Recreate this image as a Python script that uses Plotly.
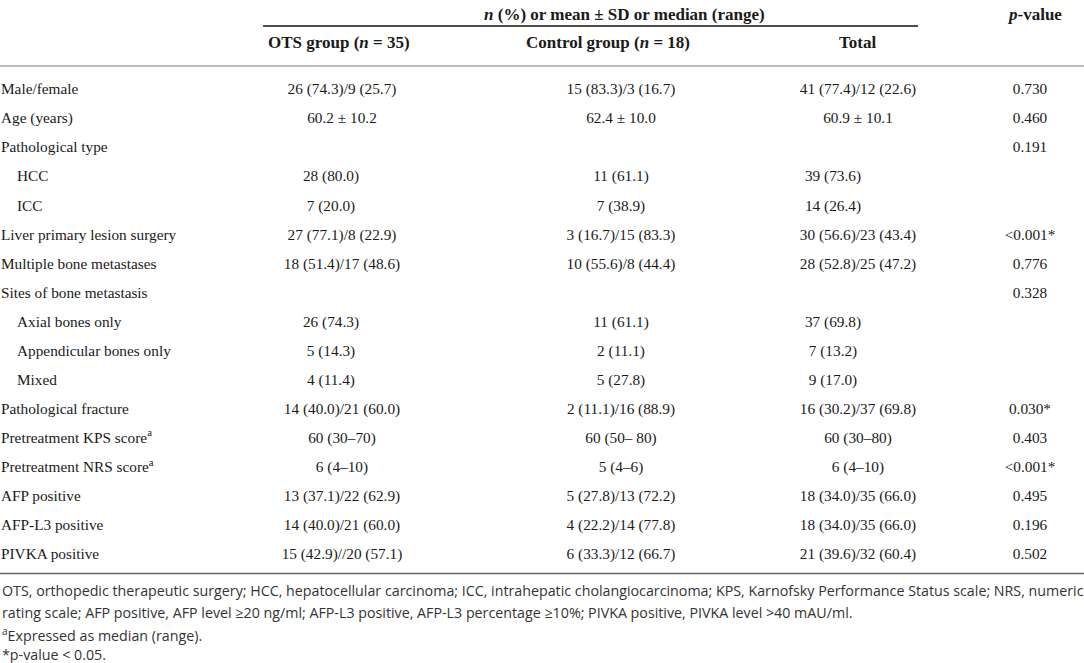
import plotly.graph_objects as go

# ---------------- data ----------------
labels = ["Male/female", "Age (years)", "Pathological type", "HCC", "ICC",
          "Liver primary lesion surgery", "Multiple bone metastases",
          "Sites of bone metastasis", "Axial bones only", "Appendicular bones only",
          "Mixed", "Pathological fracture", "Pretreatment KPS score<sup>a</sup>",
          "Pretreatment NRS score<sup>a</sup>", "AFP positive", "AFP-L3 positive",
          "PIVKA positive"]
is_sub = [False, False, False, True, True, False, False, False, True, True, True,
          False, False, False, False, False, False]
ots = ["26 (74.3)/9 (25.7)", "60.2 ± 10.2", "", "28 (80.0)", "7 (20.0)",
       "27 (77.1)/8 (22.9)", "18 (51.4)/17 (48.6)", "", "26 (74.3)", "5 (14.3)",
       "4 (11.4)", "14 (40.0)/21 (60.0)", "60 (30–70)", "6 (4–10)",
       "13 (37.1)/22 (62.9)", "14 (40.0)/21 (60.0)", "15 (42.9)//20 (57.1)"]
control = ["15 (83.3)/3 (16.7)", "62.4 ± 10.0", "", "11 (61.1)", "7 (38.9)",
           "3 (16.7)/15 (83.3)", "10 (55.6)/8 (44.4)", "", "11 (61.1)", "2 (11.1)",
           "5 (27.8)", "2 (11.1)/16 (88.9)", "60 (50– 80)", "5 (4–6)",
           "5 (27.8)/13 (72.2)", "4 (22.2)/14 (77.8)", "6 (33.3)/12 (66.7)"]
total = ["41 (77.4)/12 (22.6)", "60.9 ± 10.1", "", "39 (73.6)", "14 (26.4)",
         "30 (56.6)/23 (43.4)", "28 (52.8)/25 (47.2)", "", "37 (69.8)", "7 (13.2)",
         "9 (17.0)", "16 (30.2)/37 (69.8)", "60 (30–80)", "6 (4–10)",
         "18 (34.0)/35 (66.0)", "18 (34.0)/35 (66.0)", "21 (39.6)/32 (60.4)"]
pvals = ["0.730", "0.460", "0.191", "", "", "<0.001*", "0.776", "0.328", "", "", "",
         "0.030*", "0.403", "<0.001*", "0.495", "0.196", "0.502"]

header_span = "<i>n</i> (%) or mean ± SD or median (range)"
header_cols = ["OTS group (<i>n</i> = 35)", "Control group (<i>n</i> = 18)", "Total"]
header_p = "<i>p</i>-value"
footnotes = [
    "OTS, orthopedic therapeutic surgery; HCC, hepatocellular carcinoma; ICC, intrahepatic cholangiocarcinoma; KPS, Karnofsky Performance Status scale; NRS, numeric",
    "rating scale; AFP positive, AFP level ≥20 ng/ml; AFP-L3 positive, AFP-L3 percentage ≥10%; PIVKA positive, PIVKA level >40 mAU/ml.",
    "<sup>a</sup>Expressed as median (range).",
    "*p-value < 0.05.",
]

# ---------------- layout constants (pixels) ----------------
W, H = 1084, 663
ROW0, STEP = 90.5, 29.05
X_LABEL, X_LABEL_SUB = 1, 17
X_OTS, X_OTS_SUB = 342, 331
X_CTRL = 621
X_TOT, X_TOT_SUB = 858, 833
X_P = 1030
SERIF = "Liberation Serif"
SANS = "Open Sans"
INK = "#1a1a1a"

rows = list(range(len(labels)))


def py(px):
    return 1 - px / H


fig = go.Figure()

body_font = dict(family=SERIF, size=15.3, color=INK)


def add_column(values, xs):
    keep = [i for i, v in enumerate(values) if v]
    fig.add_trace(go.Scatter(
        x=[xs[i] for i in keep], y=[rows[i] for i in keep],
        text=[values[i] for i in keep],
        mode="text", textposition="middle center", textfont=body_font,
        cliponaxis=False, hoverinfo="skip", showlegend=False))


# row labels
fig.add_trace(go.Scatter(
    x=[X_LABEL_SUB if s else X_LABEL for s in is_sub], y=rows, text=labels,
    mode="text", textposition="middle right", textfont=body_font,
    cliponaxis=False, hoverinfo="skip", showlegend=False))

for col, xm, xs in [(ots, X_OTS, X_OTS_SUB), (control, X_CTRL, X_CTRL),
                    (total, X_TOT, X_TOT_SUB), (pvals, X_P, X_P)]:
    add_column(col, [xs if s else xm for s in is_sub])

# headers
hfont = dict(family=SERIF, size=17, color=INK)
ann = [
    dict(x=624 / W, y=py(14), text="<b>" + header_span + "</b>"),
    dict(x=1034 / W, y=py(14), text="<b>" + header_p + "</b>"),
    dict(x=339 / W, y=py(43), text="<b>" + header_cols[0] + "</b>"),
    dict(x=608 / W, y=py(43), text="<b>" + header_cols[1] + "</b>"),
    dict(x=857 / W, y=py(43), text="<b>" + header_cols[2] + "</b>"),
]
for a in ann:
    fig.add_annotation(xref="paper", yref="paper", showarrow=False,
                       xanchor="center", yanchor="middle", font=hfont, **a)

ffont = dict(family=SANS, size=14.25, color="#333333")
for txt, ypx in zip(footnotes, [590, 612, 634, 654]):
    fig.add_annotation(xref="paper", yref="paper", x=0, y=py(ypx), text=txt,
                       showarrow=False, xanchor="left", yanchor="middle", font=ffont)

# rules
fig.add_shape(type="line", xref="paper", yref="paper", x0=263 / W, x1=918 / W,
              y0=py(26), y1=py(26), line=dict(color="#111111", width=1.6))
fig.add_shape(type="line", xref="paper", yref="paper", x0=0, x1=1,
              y0=py(66), y1=py(66), line=dict(color="#a8a8a8", width=1.5))
fig.add_shape(type="line", xref="paper", yref="paper", x0=0, x1=1,
              y0=py(573.5), y1=py(573.5), line=dict(color="#666666", width=1.6))

fig.update_layout(
    width=W, height=H, margin=dict(l=0, r=0, t=0, b=0),
    paper_bgcolor="white", plot_bgcolor="white",
    xaxis=dict(range=[0, W], visible=False, fixedrange=True),
    yaxis=dict(range=[(H - ROW0) / STEP, -ROW0 / STEP], visible=False, fixedrange=True),
    showlegend=False,
)

fig.write_html("out.html", config={"displayModeBar": False},
               post_script="document.body.style.margin='0px';document.body.style.overflow='hidden';")
